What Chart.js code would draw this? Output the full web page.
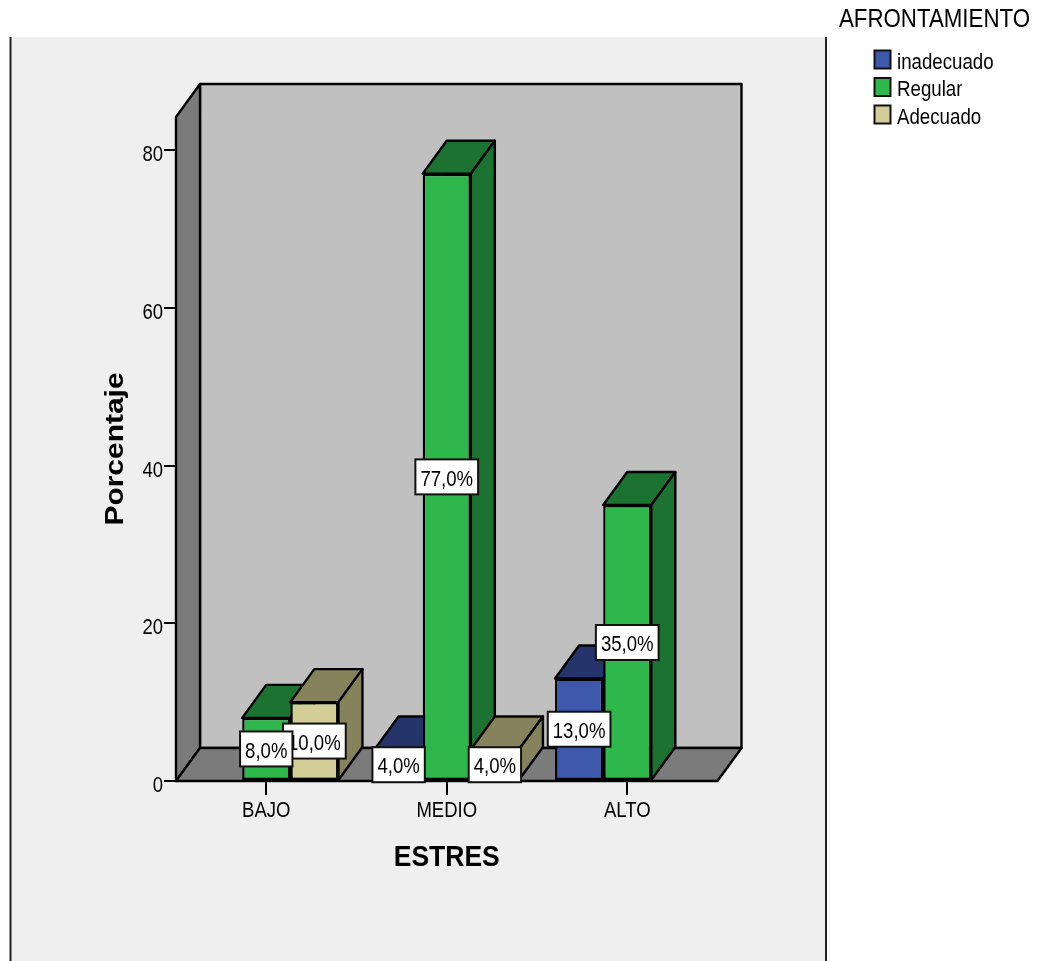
<!DOCTYPE html>
<html>
<head>
<meta charset="utf-8">
<title>ESTRES</title>
<script src="https://cdn.jsdelivr.net/npm/chart.js@4"></script>
<style>
    html, body { margin: 0; padding: 0; background: #fff; }
    canvas { display: block; }
</style>
</head>
<body>
<canvas id="myChart" width="1046" height="961"></canvas>
<script>
const categories = ["BAJO", "MEDIO", "ALTO"];
const seriesNames = ["inadecuado", "Regular", "Adecuado"];
const inadecuado = [null, 4, 13];
const regular = [8, 77, 35];
const adecuado = [10, 4, null];

const frontColors = ['#3e58ac', '#2eb84c', '#d3ce97'];
const depthColors = ['#25356c', '#1c7230', '#85825c'];

const FONT = '"Liberation Sans", Arial, sans-serif';
const DEPTH_X = 24;
const DEPTH_Y = -33;
const LINE = 2.4;

var canvas = document.getElementById('myChart');
var ctx = canvas.getContext('2d');

// all text comes out taller than it is wide, around its own anchor point;
// the small labels a bit more so, and sitting slightly lower
const plainFillText = ctx.fillText.bind(ctx);
ctx.fillText = function (text, x, y, maxWidth) {
    const small = parseFloat(ctx.font) < 20;
    const m = ctx.getTransform();
    const py = m.b * x + m.d * y + m.f;
    ctx.save();
    ctx.setTransform(new DOMMatrix()
        .translate(0, py + (small ? 5 : 0))
        .scale(1, small ? 1.22 : 1.13)
        .translate(0, -py)
        .multiply(m));
    if (maxWidth === undefined) plainFillText(text, x, y);
    else plainFillText(text, x, y, maxWidth);
    ctx.restore();
};

function quad(c, points, fill) {
    c.beginPath();
    points.forEach((p, i) => i ? c.lineTo(p[0], p[1]) : c.moveTo(p[0], p[1]));
    c.closePath();
    c.fillStyle = fill;
    c.fill();
    c.stroke();
}

// page background, panel and its two edge lines
const panelPlugin = {
    id: 'panel',
    beforeDraw(chart) {
        const c = chart.ctx;
        c.save();
        c.fillStyle = '#efefef';
        c.fillRect(10, 37, 815, 924);
        c.fillStyle = '#222222';
        c.fillRect(9.5, 37, 2, 924);
        c.fillRect(825, 37, 2, 924);
        c.restore();
    }
};

// back wall, side wall and floor of the box
const boxPlugin = {
    id: 'box',
    beforeDatasetsDraw(chart) {
        const c = chart.ctx;
        const a = chart.chartArea;
        c.save();
        c.strokeStyle = '#000';
        c.lineWidth = LINE;
        c.lineJoin = 'round';
        quad(c, [[a.left + DEPTH_X, a.top + DEPTH_Y], [a.right + DEPTH_X, a.top + DEPTH_Y],
            [a.right + DEPTH_X, a.bottom + DEPTH_Y], [a.left + DEPTH_X, a.bottom + DEPTH_Y]], '#c0c0c0');
        quad(c, [[a.left, a.top], [a.left + DEPTH_X, a.top + DEPTH_Y],
            [a.left + DEPTH_X, a.bottom + DEPTH_Y], [a.left, a.bottom]], '#7b7b7b');
        quad(c, [[a.left, a.bottom], [a.left + DEPTH_X, a.bottom + DEPTH_Y],
            [a.right + DEPTH_X, a.bottom + DEPTH_Y], [a.right, a.bottom]], '#7b7b7b');
        c.restore();
    }
};

// bars go left to right so that each one covers the side of its neighbour,
// with the top and side faces laid down just before the front
const barsPlugin = {
    id: 'bars3d',
    beforeDatasetDraw() {
        return false;
    },
    afterDatasetsDraw(chart) {
        const c = chart.ctx;
        chart.data.datasets.forEach((ds, i) => {
            const meta = chart.getDatasetMeta(i);
            c.save();
            c.strokeStyle = '#000';
            c.lineWidth = LINE;
            c.lineJoin = 'round';
            meta.data.forEach((bar, j) => {
                if (ds.data[j] === null) return;
                const l = bar.x - bar.width / 2;
                const r = bar.x + bar.width / 2;
                quad(c, [[l, bar.y], [l + DEPTH_X, bar.y + DEPTH_Y], [r + DEPTH_X, bar.y + DEPTH_Y], [r, bar.y]], depthColors[i]);
                quad(c, [[r, bar.y], [r + DEPTH_X, bar.y + DEPTH_Y], [r + DEPTH_X, bar.base + DEPTH_Y], [r, bar.base]], depthColors[i]);
            });
            c.restore();
            meta.controller.draw();
        });

        // value boxes, the later series underneath
        c.save();
        c.font = '18.6px ' + FONT;
        c.textAlign = 'center';
        c.textBaseline = 'middle';
        for (let i = chart.data.datasets.length - 1; i >= 0; i--) {
            const ds = chart.data.datasets[i];
            chart.getDatasetMeta(i).data.forEach((bar, j) => {
                if (ds.data[j] === null) return;
                const label = ds.data[j].toFixed(1).replace('.', ',') + '%';
                const w = c.measureText(label).width + 10;
                const h = 35;
                const cy = (bar.y + bar.base) / 2;
                c.fillStyle = '#fff';
                c.strokeStyle = '#111';
                c.lineWidth = 2;
                c.fillRect(bar.x - w / 2, cy - h / 2, w, h);
                c.strokeRect(bar.x - w / 2, cy - h / 2, w, h);
                c.fillStyle = '#000';
                c.fillText(label, bar.x, cy - 2.5);
            });
        }
        c.restore();
    }
};

// legend block on the right of the panel
const legendPlugin = {
    id: 'legendBlock',
    afterDraw(chart) {
        const c = chart.ctx;
        c.save();
        c.fillStyle = '#000';
        c.textBaseline = 'middle';
        c.textAlign = 'center';
        c.font = '22.3px ' + FONT;
        c.fillText('AFRONTAMIENTO', 934.5, 20);
        c.textAlign = 'left';
        c.font = '18.7px ' + FONT;
        chart.data.datasets.forEach((ds, i) => {
            const y = 50.5 + i * 27.5;
            c.fillStyle = frontColors[i];
            c.strokeStyle = '#111';
            c.lineWidth = 2;
            c.fillRect(874.5, y, 16, 18);
            c.strokeRect(874.5, y, 16, 18);
            c.fillStyle = '#000';
            c.fillText(ds.label, 897, y + 7);
        });
        c.restore();
    }
};

var chart = new Chart(ctx, {
    type: 'bar',
    data: {
        labels: categories,
        datasets: [inadecuado, regular, adecuado].map((values, i) => ({
            label: seriesNames[i],
            data: values,
            backgroundColor: frontColors[i],
            borderColor: '#000',
            borderWidth: LINE,
            borderSkipped: false,
            categoryPercentage: 0.8,
            barPercentage: 1
        }))
    },
    plugins: [panelPlugin, boxPlugin, barsPlugin, legendPlugin],
    options: {
        responsive: false,
        animation: false,
        layout: { padding: { top: 117, right: 328.5, left: 0, bottom: 0 } },
        plugins: {
            legend: { display: false },
            title: { display: false },
            tooltip: { enabled: false }
        },
        scales: {
            x: {
                afterFit(scale) { scale.height = 180; },
                border: { display: false },
                grid: { offset: false, drawOnChartArea: false, color: '#000', lineWidth: 2, tickLength: 14 },
                ticks: { color: '#000', padding: 0, maxRotation: 0, font: { family: FONT, size: 18.5 } },
                title: { display: true, text: 'ESTRES', color: '#000', padding: { top: 0, bottom: 87 }, font: { family: FONT, size: 26.5, weight: 'bold' } }
            },
            y: {
                min: 0,
                max: 84.2,
                // the top of the box is not a labelled value
                afterBuildTicks(scale) { scale.ticks = scale.ticks.filter(t => t.value % 20 === 0); },
                afterFit(scale) { scale.width = 176; },
                border: { display: false },
                grid: { drawOnChartArea: false, color: '#000', lineWidth: 2, tickLength: 12 },
                ticks: { color: '#000', padding: 1, stepSize: 20, font: { family: FONT, size: 18.5 } },
                title: { display: true, text: 'Porcentaje', color: '#000', padding: { top: 100, bottom: 0 }, font: { family: FONT, size: 26.5, weight: 'bold' } }
            }
        }
    }
});
</script>
</body>
</html>
